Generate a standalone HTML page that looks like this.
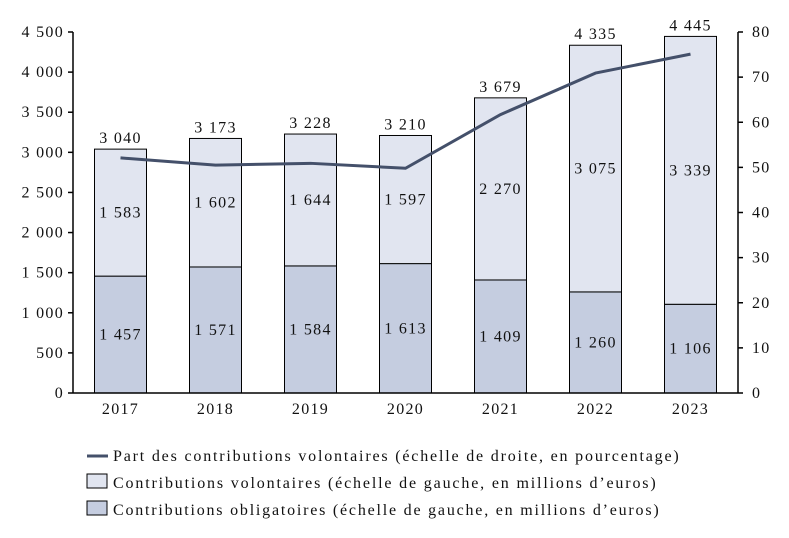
<!DOCTYPE html>
<html><head><meta charset="utf-8"><style>
body{margin:0;background:#fff;}
svg text{font-family:"Liberation Serif",serif;fill:#111;letter-spacing:1.3px;}
</style></head><body>
<svg id="c" width="789" height="533"></svg>
<script>
const years=["2017","2018","2019","2020","2021","2022","2023"];
const obligatoires=[1457,1571,1584,1613,1409,1260,1106];
const volontaires=[1583,1602,1644,1597,2270,3075,3339];
const totals=["3 040","3 173","3 228","3 210","3 679","4 335","4 445"];
const part=[52.1,50.5,50.9,49.8,61.7,70.9,75.1];
const leftTicks=[0,500,1000,1500,2000,2500,3000,3500,4000,4500];
const rightTicks=[0,10,20,30,40,50,60,70,80];

const svg=document.getElementById('c');
const NS="http://www.w3.org/2000/svg";
const x0=73,x1=738,yTop=32,yBot=393;
const yL=v=>yBot-(v/4500)*(yBot-yTop);
const yR=v=>yBot-(v/80)*(yBot-yTop);
const step=(x1-x0)/years.length;
const xC=i=>x0+step*(i+0.5);
const bw=52;
function el(t,a,txt){const e=document.createElementNS(NS,t);for(const k in a)e.setAttribute(k,a[k]);if(txt!==undefined)e.textContent=txt;svg.appendChild(e);return e;}
const fmt=v=>{const s=String(v);return s.length>3?s.slice(0,-3)+" "+s.slice(-3):s;};

years.forEach((y,i)=>{
  const cx=xC(i);
  const o=el('rect',{x:cx-bw/2,y:yL(obligatoires[i]),width:bw,height:yBot-yL(obligatoires[i]),fill:'#c5cde0',stroke:'#000','stroke-width':1});
  
  
  const tot=obligatoires[i]+volontaires[i];
  const v=el('rect',{x:cx-bw/2,y:yL(tot),width:bw,height:yL(obligatoires[i])-yL(tot),fill:'#e1e5f0',stroke:'#000','stroke-width':1});
  
  
  const t1=el('text',{x:cx,y:(yL(obligatoires[i])+yBot)/2+5,'text-anchor':'middle','font-size':16},fmt(obligatoires[i]));
  
  
  const t2=el('text',{x:cx,y:(yL(tot)+yL(obligatoires[i]))/2+5,'text-anchor':'middle','font-size':16},fmt(volontaires[i]));
  
  
  const t3=el('text',{x:cx,y:yL(tot)-6,'text-anchor':'middle','font-size':16},totals[i]);
  
  
  const t4=el('text',{x:cx,y:414,'text-anchor':'middle','font-size':16},y);
  
  
});

const ax=el('line',{x1:x0,y1:yTop,x2:x0,y2:yBot,stroke:'#000','stroke-width':1.5});


const ax2=el('line',{x1:x1,y1:yTop,x2:x1,y2:yBot,stroke:'#000','stroke-width':1.5});


const ax3=el('line',{x1:x0,y1:yBot,x2:x1,y2:yBot,stroke:'#000','stroke-width':1.5});


leftTicks.forEach(v=>{
  el('line',{x1:x0-5,y1:yL(v),x2:x0,y2:yL(v),stroke:'#000','stroke-width':1.5});
  const t=el('text',{x:64,y:yL(v)+5,'text-anchor':'end','font-size':16},fmt(v));
  
  
});
rightTicks.forEach(v=>{
  el('line',{x1:x1,y1:yR(v),x2:x1+5,y2:yR(v),stroke:'#000','stroke-width':1.5});
  const t=el('text',{x:752,y:yR(v)+5,'text-anchor':'start','font-size':16},v);
  
  
});

const pl=el('polyline',{points:part.map((p,i)=>xC(i)+','+yR(p)).join(' '),fill:'none',stroke:'#44506a','stroke-width':3});



// legend
const l1=el('line',{x1:87,y1:456,x2:108,y2:456,stroke:'#44506a','stroke-width':3});


const lt1=el('text',{x:113,y:461,'font-size':16,textLength:567,lengthAdjust:'spacing'},"Part des contributions volontaires (échelle de droite, en pourcentage)");


const l2=el('rect',{x:87,y:474,width:20,height:14,fill:'#e1e5f0',stroke:'#000'});


const lt2=el('text',{x:113,y:488,'font-size':16,textLength:544,lengthAdjust:'spacing'},"Contributions volontaires (échelle de gauche, en millions d’euros)");


const l3=el('rect',{x:87,y:501,width:20,height:14,fill:'#c5cde0',stroke:'#000'});


const lt3=el('text',{x:113,y:515,'font-size':16,textLength:547,lengthAdjust:'spacing'},"Contributions obligatoires (échelle de gauche, en millions d’euros)");


</script>
</body></html>
